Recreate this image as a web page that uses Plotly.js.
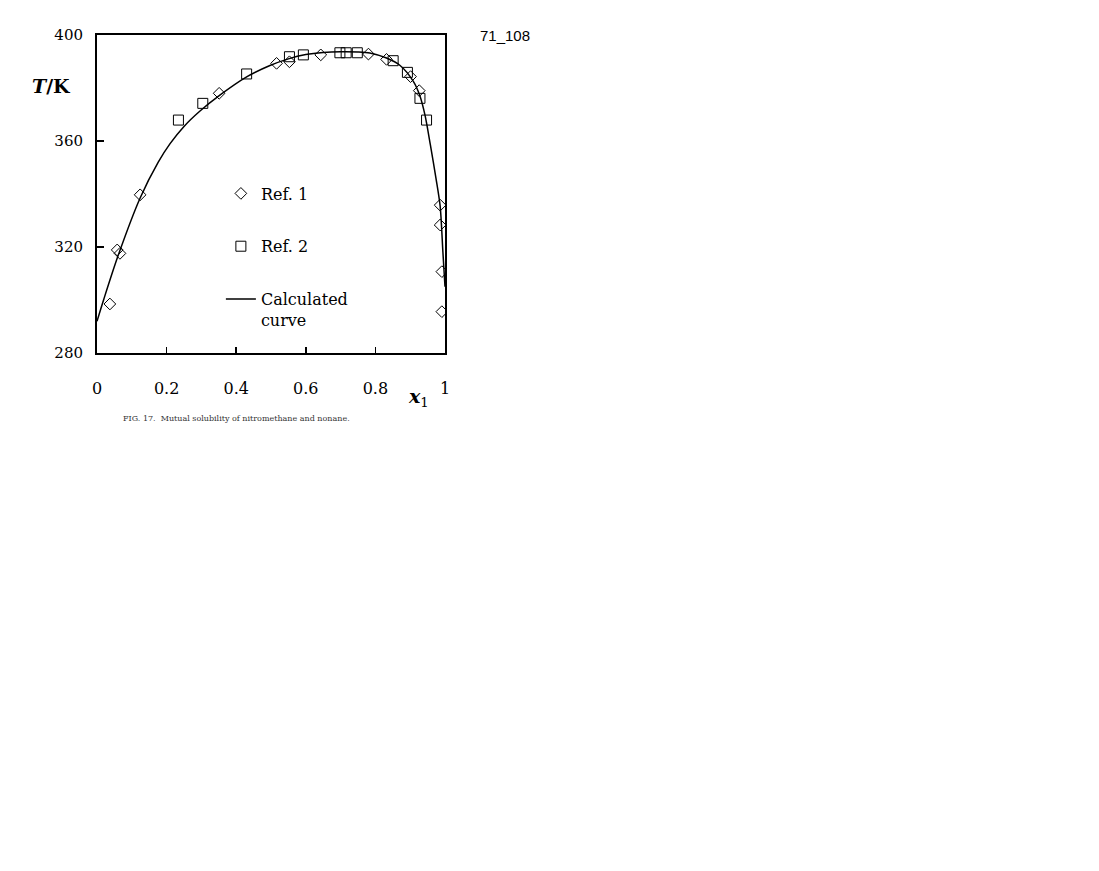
<!DOCTYPE html>
<html>
<head>
<meta charset="utf-8">
<script src="https://cdn.plot.ly/plotly-3.0.1.min.js"></script>
<style>html,body{margin:0;padding:0;background:#fff;}#chart{width:1099px;height:871px;}</style>
</head>
<body>
<div id="chart"></div>
<script>
// Ref. 1 (diamonds)
const ref1X = [0.037, 0.058, 0.066, 0.124, 0.351, 0.516, 0.553, 0.643, 0.780, 0.832, 0.901, 0.926, 0.986, 0.986, 0.991, 0.991];
const ref1T = [298.5, 318.9, 317.6, 339.7, 378.0, 389.3, 389.9, 392.5, 392.8, 390.8, 384.3, 379.0, 335.8, 328.3, 310.7, 295.6];
// Ref. 2 (squares)
const ref2X = [0.234, 0.304, 0.430, 0.553, 0.593, 0.698, 0.716, 0.748, 0.851, 0.892, 0.928, 0.947];
const ref2T = [367.9, 374.2, 385.3, 391.8, 392.5, 393.3, 393.3, 393.3, 390.3, 385.9, 376.1, 367.9];
// Calculated curve
const calcX = [0, 0.02, 0.06, 0.124, 0.176, 0.21, 0.25, 0.296, 0.353, 0.43, 0.497, 0.55, 0.6, 0.65, 0.7, 0.75, 0.784, 0.832, 0.871, 0.909, 0.928, 0.943, 0.958, 0.974, 0.986, 0.994, 1.0];
const calcT = [292, 300.5, 316.5, 338.5, 352, 359, 365.5, 371.3, 377.3, 384.2, 388.5, 391, 392.6, 393.4, 393.7, 393.6, 393.2, 391.3, 388.5, 382.5, 377, 369.5, 358.5, 346, 335.5, 318, 305];
// Tick labels
const xTicks = [0, 0.2, 0.4, 0.6, 0.8, 1];
const xTickText = ['0', '0.2', '0.4', '0.6', '0.8', '1'];
const yTicks = [280, 320, 360, 400];
const yTickText = ['280', '320', '360', '400'];

const serif = 'DejaVu Serif, Liberation Serif, serif';

const traces = [
  {x: calcX, y: calcT, mode: 'lines', name: 'Calculated<br>curve', legendgroup: 'c', legendrank: 3,
   line: {color: '#000', width: 1.5, shape: 'spline', smoothing: 0.8}},
  {x: ref1X, y: ref1T, mode: 'markers', name: 'Ref. 1', legendgroup: 'a', legendrank: 1,
   marker: {symbol: 'diamond-open', size: 9, color: '#000', line: {width: 1}}},
  {x: ref2X, y: ref2T, mode: 'markers', name: 'Ref. 2', legendgroup: 'b', legendrank: 2,
   marker: {symbol: 'square-open', size: 10, color: '#000', line: {width: 1}}}
];

const layout = {
  width: 1099, height: 871,
  paper_bgcolor: '#fff', plot_bgcolor: '#fff',
  margin: {l: 97, r: 654, t: 35, b: 518, pad: 0},
  font: {family: serif, size: 15, color: '#000'},
  showlegend: true,
  legend: {x: 0.356, y: 0.555, xanchor: 'left', yanchor: 'top', bgcolor: 'rgba(0,0,0,0)',
           font: {family: serif, size: 16, color: '#000'}, tracegroupgap: 29, valign: 'top',
           traceorder: 'grouped'},
  xaxis: {range: [0, 1], tickvals: xTicks, ticktext: xTickText, ticks: 'inside', ticklen: 6,
          tickcolor: '#000', tickwidth: 1.5, showgrid: false, zeroline: false, showline: true,
          linecolor: '#000', linewidth: 2, mirror: true, ticklabelstandoff: 20,
          tickfont: {family: serif, size: 16, color: '#000'}},
  yaxis: {range: [280, 400], tickvals: yTicks, ticktext: yTickText, ticks: 'inside', ticklen: 7,
          tickcolor: '#000', tickwidth: 1.5, showgrid: false, zeroline: false, showline: true,
          linecolor: '#000', linewidth: 2, mirror: true, ticklabelstandoff: 9,
          tickfont: {family: serif, size: 15, color: '#000'}},
  annotations: [
    {text: '<b><i>T</i>/K</b>', xref: 'paper', yref: 'paper', x: -0.13, y: 0.84,
     xanchor: 'center', yanchor: 'middle', showarrow: false, font: {family: serif, size: 19, color: '#000'}},
    {text: '<b><i>x</i></b><sub>1</sub>', xref: 'paper', yref: 'paper', x: 0.925, y: -0.14,
     xanchor: 'center', yanchor: 'middle', showarrow: false, font: {family: serif, size: 19, color: '#000'}},
    {text: 'FIG. 17.  Mutual solubility of nitromethane and nonane.', xref: 'paper', yref: 'paper',
     x: 0.07, y: -0.205, xanchor: 'left', yanchor: 'middle', showarrow: false,
     font: {family: serif, size: 8, color: '#333'}},
    {text: '71_108', xref: 'paper', yref: 'paper', x: 1.095, y: 1.0, xanchor: 'left', yanchor: 'middle',
     showarrow: false, font: {family: 'Liberation Sans, Arial, sans-serif', size: 15, color: '#000'}}
  ]
};

Plotly.newPlot('chart', traces, layout, {displayModeBar: false, staticPlot: true});
</script>
</body>
</html>
